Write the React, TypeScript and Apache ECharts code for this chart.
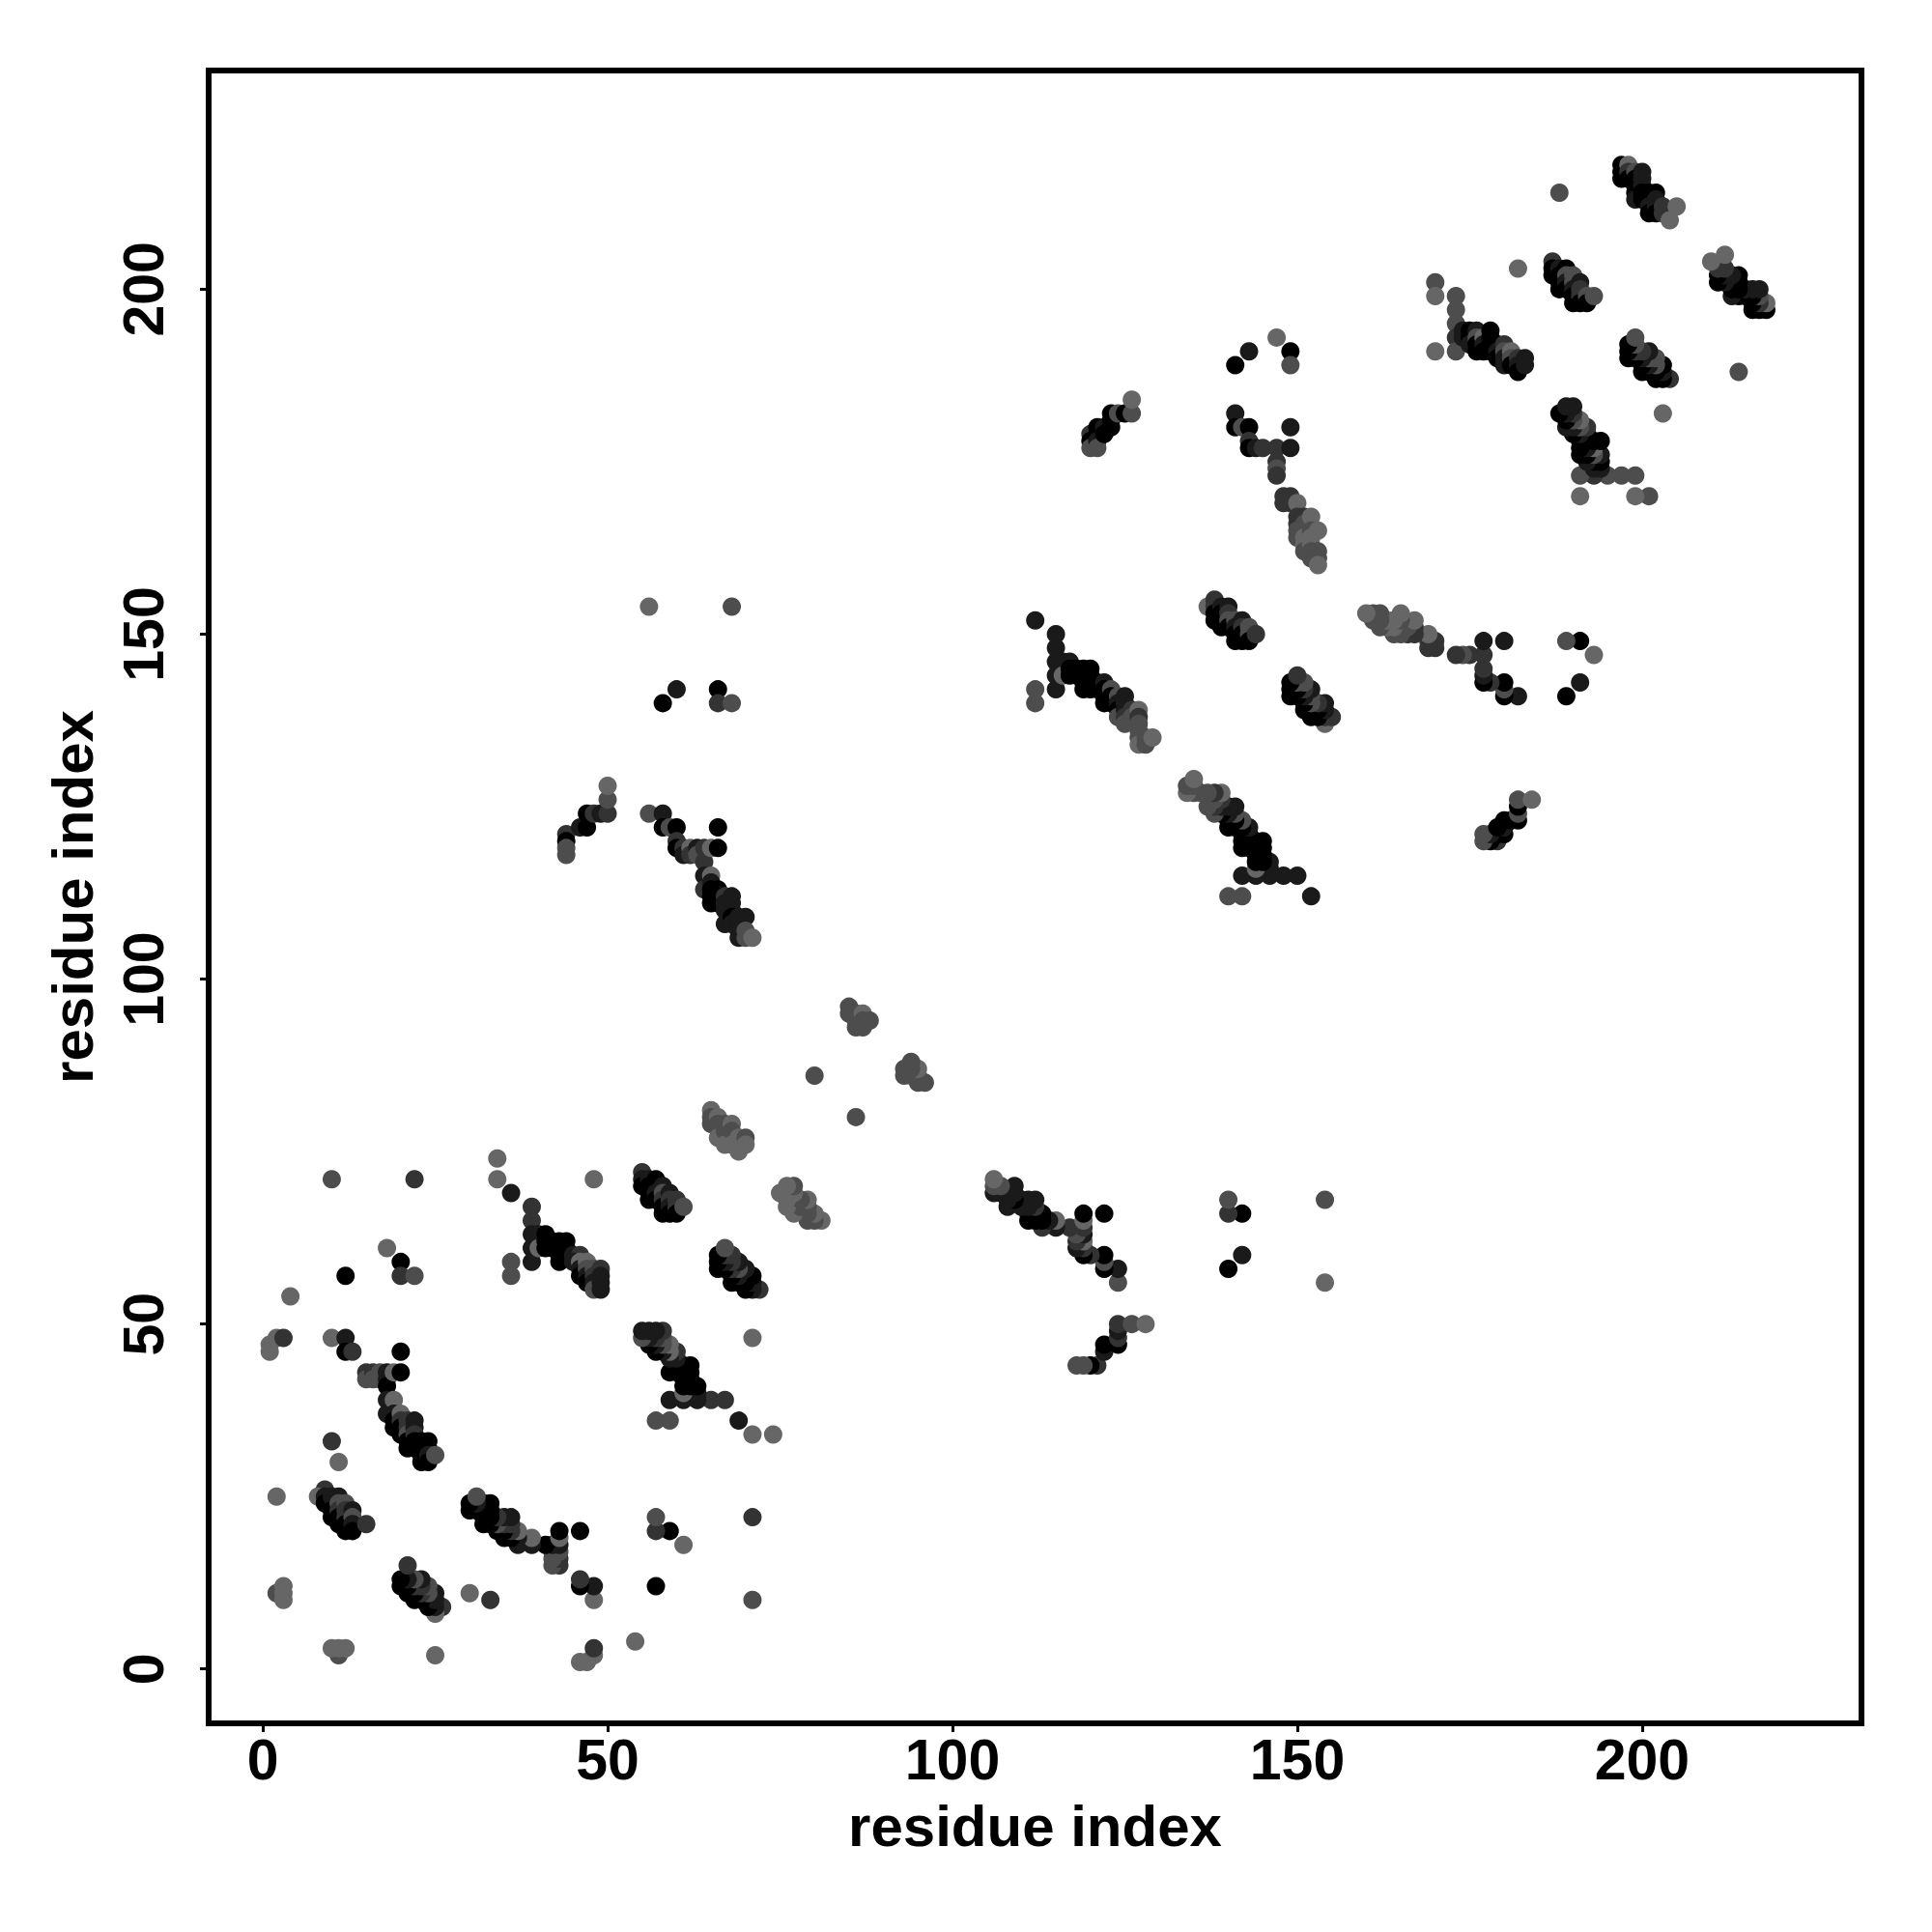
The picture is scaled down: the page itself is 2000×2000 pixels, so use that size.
import React, { useEffect, useRef } from "react";
import * as echarts from "echarts";

// Each contact is [residue i, residue j, strength]; the map is symmetric, so j > i is listed and mirrored.
const sparseLow = [[1,46,0],[1,47,0],[2,48,0],[3,48,2],[4,54,0],[10,48,0],[12,48,3],[12,46,4],[13,46,2],[20,46,4],[12,57,4],[18,61,0],[20,59,4],[20,57,2],[22,57,1],[10,71,1],[22,71,2],[2,11,1],[3,10,0],[3,11,0],[3,12,0],[2,25,0],[10,33,2],[11,30,0],[48,71,0],[34,74,0],[34,71,0],[36,69,3],[36,59,1],[36,57,1],[80,86,1],[56,154,0],[68,154,1],[60,142,3],[58,140,4],[66,142,4],[66,140,2],[68,140,1]];
const strandA = [[9,26,2],[8,25,0],[9,25,3],[9,24,4],[10,24,4],[10,25,3],[10,23,4],[10,22,4],[11,25,3],[11,24,1],[11,23,2],[11,22,4],[11,21,4],[12,24,1],[12,23,2],[12,22,2],[12,21,4],[12,20,4],[13,23,3],[13,22,1],[13,21,3],[13,20,4],[15,21,2]];
const strandB = [[15,43,2],[15,42,1],[16,43,2],[16,42,1],[17,43,1],[17,42,1],[18,43,3],[18,42,3],[18,41,4],[18,39,3],[18,37,3],[19,43,0],[20,43,4],[19,39,0],[19,37,3],[19,36,4],[19,35,4],[20,37,0],[20,36,2],[20,35,4],[20,34,4],[21,36,2],[21,35,2],[21,34,1],[21,33,4],[21,32,4],[22,36,3],[22,35,3],[22,34,2],[22,33,4],[22,32,4],[23,33,4],[23,32,4],[23,31,4],[23,30,4],[24,33,4],[24,32,4],[24,31,3],[24,30,4],[25,31,1]];
const strandC = [[39,67,2],[39,65,2],[39,63,3],[39,61,3],[39,59,3],[40,63,3],[40,62,3],[40,61,0],[41,63,4],[41,62,4],[41,61,4],[42,62,4],[42,61,4],[43,62,4],[43,61,4],[43,60,4],[43,59,4],[44,62,4],[44,61,4],[44,60,4],[45,60,3],[46,60,2],[45,59,3],[46,59,0],[46,58,3],[46,57,4],[47,59,0],[47,58,1],[47,57,3],[47,56,4],[48,58,1],[48,57,2],[48,56,3],[48,55,1],[49,58,2],[49,57,3],[49,56,3],[49,55,3]];
const strandD = [[55,72,2],[55,71,3],[55,70,4],[56,71,3],[56,70,4],[56,69,4],[56,68,4],[57,71,4],[57,70,4],[57,69,3],[57,68,4],[58,70,3],[58,69,1],[58,68,2],[58,67,4],[58,66,4],[59,69,3],[59,68,2],[59,67,3],[59,66,4],[60,68,2],[60,67,2],[60,66,4],[61,67,1]];
const strandE = [[65,81,0],[65,80,1],[65,79,1],[66,80,0],[66,79,1],[67,79,1],[66,77,0],[67,78,1],[67,76,0],[68,79,0],[68,78,1],[68,76,0],[69,77,0],[69,76,0],[69,75,0],[70,77,1],[70,76,0],[85,96,1],[85,95,1],[86,95,1],[86,94,1],[86,93,1],[87,95,0],[87,94,1],[87,93,1],[88,94,1]];
const strandF = [[44,121,2],[44,120,4],[44,119,1],[44,118,1],[46,122,3],[47,122,4],[47,124,4],[48,124,2],[49,124,3],[50,124,2],[50,126,1],[50,128,0]];
const strandG = [[56,124,1],[58,124,3],[58,122,4],[59,122,1],[60,122,4],[60,120,2],[60,119,4],[61,119,2],[61,118,3],[62,119,0],[62,118,2],[63,119,3],[63,118,1],[64,119,2],[64,117,2],[64,115,3],[64,113,2],[65,119,0],[65,115,0],[65,114,3],[65,113,4],[65,112,4],[65,111,4],[66,122,4],[66,119,4],[66,113,4],[66,112,4],[66,111,4],[67,112,2],[67,111,3],[67,110,3],[67,108,3],[68,112,3],[68,111,3],[68,110,3],[68,109,4],[68,108,3],[69,109,3],[69,108,3],[69,107,3],[69,106,3],[70,109,3],[70,107,1],[70,106,1],[71,106,0]];
const strandH = [[112,152,3],[112,142,1],[112,140,1],[115,150,3],[115,148,3],[115,146,3],[115,144,3],[115,142,3],[116,146,3],[116,145,3],[116,144,0],[117,146,3],[117,145,4],[117,144,4],[118,145,4],[118,144,4],[119,145,4],[119,144,4],[119,143,4],[119,142,4],[120,145,4],[120,144,4],[120,143,4],[120,142,4],[121,143,4],[121,142,4],[122,143,3],[122,142,4],[122,141,4],[122,140,4],[123,142,1],[123,141,4],[123,140,4],[124,141,1],[124,140,3],[124,139,4],[124,138,1],[125,141,3],[125,140,3],[125,139,3],[125,138,2],[125,137,1],[126,139,2],[126,138,1],[127,139,0],[127,138,2],[127,137,1],[127,136,1],[127,135,1],[127,134,0],[128,135,1],[128,134,1],[129,135,0]];
const strandI = [[137,154,0],[138,155,2],[138,154,2],[138,153,4],[138,152,4],[139,154,3],[139,153,4],[139,152,4],[139,151,4],[140,154,3],[140,153,2],[140,152,1],[140,151,4],[141,152,1],[141,151,3],[141,150,4],[141,149,4],[142,152,3],[142,151,2],[142,150,4],[142,149,4],[143,151,1],[143,150,1],[143,149,4],[144,150,2]];
const strandJ = [[143,191,3],[141,189,4],[147,193,0],[149,191,4],[149,189,1],[141,182,3],[141,180,4],[142,180,1],[143,180,4],[143,178,2],[143,177,4],[144,177,3],[145,177,2],[147,177,2],[149,177,3],[149,180,3],[147,175,2],[147,174,1],[147,173,2],[148,170,2],[148,169,2],[149,170,2],[149,169,2],[150,169,0],[150,167,2],[150,166,2],[150,165,1],[150,164,1],[151,167,2],[151,166,1],[151,165,1],[151,164,0],[151,163,0],[151,162,1],[152,167,0],[152,165,1],[152,164,0],[152,163,0],[152,162,1],[152,161,1],[153,165,0],[153,162,1],[153,161,1],[153,160,0]];
const strandK = [[120,179,2],[120,178,4],[120,177,1],[121,180,4],[121,179,4],[121,178,3],[121,177,1],[122,180,3],[122,179,4],[123,182,4],[123,181,4],[123,180,4],[124,182,1],[125,182,4],[126,182,1],[126,184,0]];
const strandL = [[188,214,1],[197,218,4],[197,217,4],[197,216,4],[198,218,0],[198,217,2],[198,216,4],[199,217,1],[199,216,4],[199,215,4],[199,214,4],[199,213,3],[200,217,3],[200,216,3],[200,215,3],[200,214,4],[200,213,4],[201,214,4],[201,213,4],[201,212,3],[201,211,4],[202,214,4],[202,213,3],[202,212,3],[202,211,4],[203,212,2],[203,211,2],[204,210,0],[205,212,0]];
const strandM = [[182,203,0],[187,204,2],[187,203,4],[187,202,4],[188,203,3],[188,202,4],[188,201,4],[188,200,4],[189,203,4],[189,202,1],[189,201,3],[189,200,4],[190,202,1],[190,201,1],[190,200,3],[190,199,4],[190,198,4],[191,201,3],[191,200,2],[191,199,2],[191,198,4],[192,199,1],[192,198,4],[193,199,1]];
const strandN = [[170,201,1],[170,199,0],[170,191,0],[173,199,1],[173,197,1],[173,195,1],[173,193,2],[173,191,1],[174,194,3],[174,193,3],[175,194,4],[175,193,4],[175,192,3],[176,194,3],[176,193,1],[176,192,4],[176,191,4],[177,193,0],[177,192,3],[177,191,4],[178,194,4],[178,193,4],[178,192,4],[178,191,4],[179,192,4],[179,191,3],[179,190,4],[180,192,2],[180,191,1],[180,190,3],[180,189,3],[181,191,0],[181,190,1],[181,189,4],[182,190,2],[182,189,3],[182,188,4],[183,190,3],[183,189,3]];

const contacts = [sparseLow, strandA, strandB, strandC, strandD, strandE, strandF, strandG, strandH, strandI, strandJ, strandK, strandL, strandM, strandN].flat();
const tickValues = [0, 50, 100, 150, 200];
const axisTitle = "residue index";
const FONT = "'Liberation Sans', Arial, sans-serif";

export default function App() {
  const ref = useRef<HTMLDivElement>(null);
  useEffect(() => {
    const chart = echarts.init(ref.current!, undefined, { renderer: "svg" });
    const makeAxis = (rotate: number, margin: number, nameGap: number) => ({
      type: "value",
      name: axisTitle,
      nameLocation: "middle",
      nameGap,
      nameTextStyle: { fontFamily: FONT, fontWeight: "bold", fontSize: 60, color: "#000" },
      axisLine: { show: false, onZero: false },
      axisTick: { show: true, length: 9, customValues: tickValues, lineStyle: { color: "#000", width: 3 } },
      axisLabel: { customValues: tickValues, rotate, margin, fontFamily: FONT, fontWeight: "bold", fontSize: 59, color: "#000" },
      splitLine: { show: false },
    });
    chart.setOption({
      animation: false,
      backgroundColor: "#fff",
      grid: { show: true, left: 216, top: 73, width: 1711, height: 1711, borderColor: "#000", borderWidth: 6, backgroundColor: "transparent" },
      xAxis: { ...makeAxis(0, 8, 76), min: -7.85, max: 231.8 },
      yAxis: { ...makeAxis(90, 38, 111), min: -7.88, max: 231.7 },
      visualMap: { show: false, type: "continuous", min: 0, max: 4, dimension: 2, seriesIndex: 0, inRange: { color: ["#666666", "#000000"] } },
      series: [{
        type: "scatter",
        symbol: "circle",
        symbolSize: 19,
        silent: true,
        itemStyle: { opacity: 1 },
        data: [...contacts, ...contacts.map(([i, j, s]) => [j, i, s])],
      }],
    });
    return () => chart.dispose();
  }, []);
  return <div ref={ref} style={{ position: "absolute", left: 0, top: 0, width: 2000, height: 2000 }} />;
}
